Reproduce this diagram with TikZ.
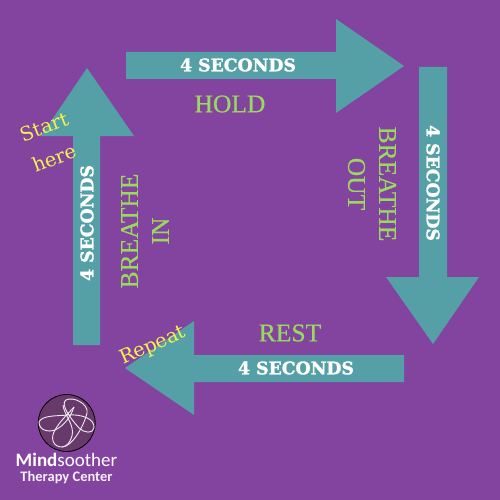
\documentclass[tikz,border=0pt]{standalone}
\usepackage{fontspec}
\setmainfont{DejaVu Serif}
\newfontfamily\thinfont[FakeBold=0.4]{Liberation Serif}
\newfontfamily\heavyfont[FakeBold=1.6]{DejaVu Serif Bold}
\newfontfamily\logofont{Carlito}
\usetikzlibrary{calc}
\definecolor{bg}{HTML}{8344A0}
\definecolor{teal}{HTML}{54A0A6}
\definecolor{lime}{HTML}{9BD85F}
\definecolor{yel}{HTML}{F6F050}
\definecolor{disc}{HTML}{683A6C}
\tikzset{
  arrowshape/.style={fill=teal,draw=none},
  secs/.style={text=white,font=\heavyfont\fontsize{17.3}{19}\selectfont,inner sep=0pt},
  word/.style={text=lime,font=\thinfont\fontsize{25.5}{27}\selectfont,inner sep=0pt,align=center},
  note/.style={text=yel,font=\fontsize{19.5}{21}\selectfont,inner sep=0pt},
  petal/.style={draw=white!90!disc,line width=0.9pt},
}
\begin{document}
\begin{tikzpicture}[x=1pt,y=-1pt]
\useasboundingbox (0,0) rectangle (500,500);
\fill[bg] (0,0) rectangle (500,500);
% arrows
\fill[arrowshape] (126,52) -- (336,52) -- (336,19) -- (404,66) -- (336,113) -- (336,79) -- (126,79) -- cycle;
\fill[arrowshape] (419,67) -- (447,67) -- (447,277) -- (479,277) -- (433,344) -- (386,277) -- (419,277) -- cycle;
\fill[arrowshape] (404,355) -- (194,355) -- (194,321) -- (125,368) -- (194,415) -- (194,382) -- (404,382) -- cycle;
\fill[arrowshape] (73,345) -- (73,136) -- (41,136) -- (87,68) -- (134,136) -- (100,136) -- (100,345) -- cycle;
% labels on the arrows
\node[secs] (top) at (238,65) {4 SECONDS};
\node[secs,rotate=-90] (right) at (433,183) {4 SECONDS};
\node[secs] (bottom) at (296,368) {4 SECONDS};
\node[secs,rotate=90] (left) at (87,223) {4 SECONDS};
% the four phases
\node[word] (hold) at (230,104) {HOLD};
\node[word,rotate=-90] (out) at (372,184) {BREATHE\\[4pt]OUT};
\node[word] (rest) at (290,333) {REST};
\node[word,rotate=90] (in) at (145,231) {BREATHE\\[4pt]IN};
% notes
\node[note,rotate=21] (start) at (44,127) {Start};
\node[note,rotate=21] (here) at (54,158) {here};
\node[note,rotate=24] (repeat) at (153,346) {Repeat};
% logo
\node[circle,draw=black,fill=disc,line width=0.8pt,minimum size=57pt,inner sep=0pt] (logo) at (66.7,423) {};
\draw[petal] (39,422) .. controls (42,415) and (58,416) .. (68,415) .. controls (80,414) and (95,418) .. (94,428) .. controls (93,434) and (84,433) .. (79,428) .. controls (70,418) and (60,404) .. (66,400) .. controls (73,396) and (89,404) .. (87,413) .. controls (84,426) and (72,447) .. (62,447) .. controls (53,447) and (50,438) .. (55,430) .. controls (60,421) and (68,414) .. (74,407);
\draw[petal] (39,422) .. controls (39,431) and (50,433) .. (57,429) .. controls (64,425) and (70,418) .. (74,407);
\draw[petal] (63,405) .. controls (64,415) and (75,425) .. (72,436) .. controls (70,443) and (66,447) .. (62,447);
\node[text=white,font=\logofont\bfseries\fontsize{19}{20}\selectfont,inner sep=0pt] (brand) at (66.5,459.5) {Mind{\logofont\mdseries soother}};
\node[text=white!92!bg,font=\logofont\bfseries\fontsize{14.5}{16}\selectfont,inner sep=0pt] (center) at (66.5,477.5) {Therapy Center};
\end{tikzpicture}
\end{document}
